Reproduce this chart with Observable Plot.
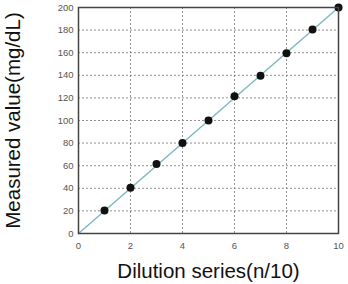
<!DOCTYPE html>
<html><head><meta charset="utf-8">
<script src="https://cdn.jsdelivr.net/npm/d3@7"></script>
<script src="https://cdn.jsdelivr.net/npm/@observablehq/plot@0.6"></script>
<style>
body{margin:0;background:#fff;}
#chart svg{font-family:"Liberation Sans Narrow","Liberation Sans",Arial,sans-serif;}
g[aria-label="y-axis label"], g[aria-label="x-axis label"]{font-size:20.5px;fill:#111;font-family:"Liberation Sans",Arial,sans-serif;}
g[aria-label="y-axis tick label"], g[aria-label="x-axis tick label"]{fill:#555;}
</style>
</head><body><div id="chart"></div>
<script>
const dilution = [1,2,3,4,5,6,7,8,9,10];
const measured = [20.3,40.5,61.5,80,100,121.5,139.5,159.5,180.5,200];
const lineX = [0,10];
const lineY = [0,200];
const xTicks = [0,2,4,6,8,10];
const yTicks = [0,20,40,60,80,100,120,140,160,180,200];

const points = dilution.map((d,i)=>({x:d,y:measured[i]}));
const fit = lineX.map((d,i)=>({x:d,y:lineY[i]}));

const plot = Plot.plot({
  width:348, height:284,
  marginLeft:78, marginRight:10, marginTop:7, marginBottom:51,
  style:{fontSize:"9.5px", background:"#fff"},
  x:{domain:[0,10]},
  y:{domain:[0,200]},
  marks:[
    Plot.gridX(xTicks.filter(d=>d>0&&d<10),{stroke:"#777",strokeOpacity:0.8,strokeDasharray:"2,2"}),
    Plot.gridY(yTicks.filter(d=>d>0&&d<200),{stroke:"#777",strokeOpacity:0.8,strokeDasharray:"2,2"}),
    Plot.axisX({ticks:xTicks,tickSize:0,tickPadding:9,label:"Dilution series(n/10)",labelAnchor:"center",labelArrow:"none",labelOffset:44}),
    Plot.axisY({ticks:yTicks,tickSize:0,tickPadding:5,label:"Measured value(mg/dL)",labelAnchor:"center",labelArrow:"none",labelOffset:73}),
    Plot.line(fit,{x:"x",y:"y",stroke:"#7fb9c2",strokeWidth:1.5}),
    Plot.dot(points,{x:"x",y:"y",r:4,fill:"#111",stroke:"none"}),
    Plot.frame({stroke:"#444",strokeWidth:1.5})
  ]
});
document.getElementById("chart").appendChild(plot);
</script>
</body></html>
